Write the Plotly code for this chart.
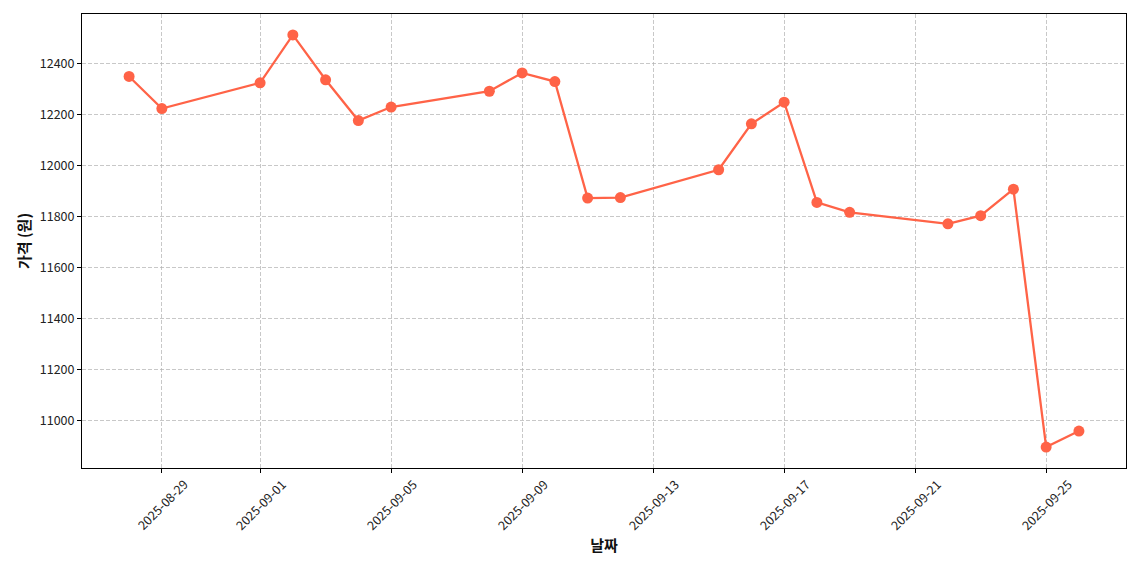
import plotly.graph_objects as go

dates = [
    "2025-08-28", "2025-08-29", "2025-09-01", "2025-09-02", "2025-09-03",
    "2025-09-04", "2025-09-05", "2025-09-08", "2025-09-09", "2025-09-10",
    "2025-09-11", "2025-09-12", "2025-09-15", "2025-09-16", "2025-09-17",
    "2025-09-18", "2025-09-19", "2025-09-22", "2025-09-23", "2025-09-24",
    "2025-09-25", "2025-09-26",
]
prices = [
    12349, 12223, 12324, 12512, 12336,
    12176, 12229, 12291, 12363, 12329,
    11872, 11874, 11983, 12163, 12248,
    11855, 11816, 11771, 11803, 11907,
    10895, 10958,
]
x_ticks = ["2025-08-29", "2025-09-01", "2025-09-05", "2025-09-09",
           "2025-09-13", "2025-09-17", "2025-09-21", "2025-09-25"]
y_ticks = [11000, 11200, 11400, 11600, 11800, 12000, 12200, 12400]

FONT = "Noto Sans CJK KR, Noto Sans, sans-serif"
TOMATO = "#FF6347"
GRID = "rgba(176,176,176,0.7)"

fig = go.Figure()
fig.add_trace(
    go.Scatter(
        x=dates,
        y=prices,
        mode="lines+markers",
        line=dict(color=TOMATO, width=2.3),
        marker=dict(color=TOMATO, size=11),
        showlegend=False,
    )
)

# matplotlib-style centred rotated date labels
for d in x_ticks:
    fig.add_annotation(
        x=d, xref="x", y=0, yref="paper",
        text=d, showarrow=False, textangle=-45,
        xanchor="center", yanchor="top", yshift=-4,
        font=dict(family=FONT, size=12.5, color="#222"),
    )

fig.update_xaxes(
    type="date",
    range=["2025-08-26 13:30", "2025-09-27 10:30"],
    tickvals=x_ticks,
    showticklabels=False,
    ticks="outside", ticklen=4, tickcolor="black",
    showgrid=True, gridcolor=GRID, griddash="4px,2px", gridwidth=1,
    showline=True, linecolor="black", linewidth=1, mirror=True,
    zeroline=False,
    title=dict(text="<b>날짜</b>", font=dict(family=FONT, size=15, color="#111"), standoff=68),
)
fig.update_yaxes(
    range=[10813, 12594],
    tickvals=y_ticks,
    tickformat="d",
    ticks="outside", ticklen=4, tickcolor="black",
    tickfont=dict(family=FONT, size=12.5, color="#222"),
    showgrid=True, gridcolor=GRID, griddash="4px,2px", gridwidth=1,
    showline=True, linecolor="black", linewidth=1, mirror=True,
    zeroline=False,
    title=dict(text="<b>가격 (원)</b>", font=dict(family=FONT, size=15, color="#111"), standoff=5),
)
# page body has an 8px margin, so the figure is sized to fit inside it
fig.update_layout(
    width=1124,
    height=554,
    margin=dict(l=74, r=6, t=6, b=94),
    paper_bgcolor="white",
    plot_bgcolor="white",
    font=dict(family=FONT),
)

fig.write_html("out.html")
